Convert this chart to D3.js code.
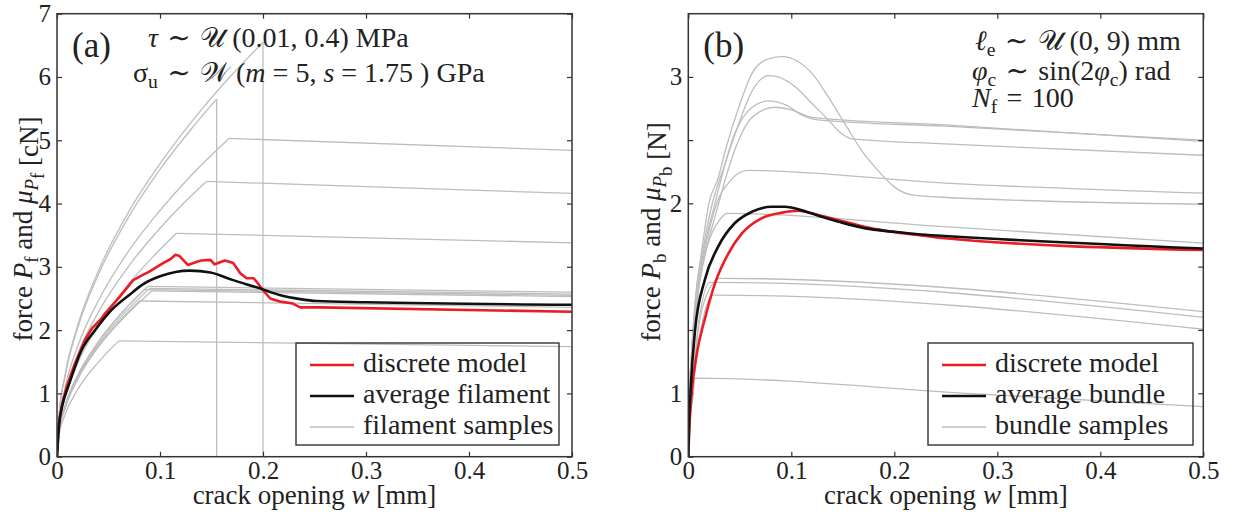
<!DOCTYPE html>
<html>
<head>
<meta charset="utf-8">
<script src="https://cdn.jsdelivr.net/npm/d3@7"></script>
<style>
  body { margin: 0; background: #fff; }
  svg { display: block; }
  svg text { font-family: "Liberation Serif", "DejaVu Serif", serif !important; fill: #222; }
</style>
</head>
<body>
<svg id="chart" width="1236" height="515"></svg>
<script>
// crack opening ticks shared by both panels
const wTicks = [0, 0.1, 0.2, 0.3, 0.4, 0.5]
const filamentForceTicks = [0, 1, 2, 3, 4, 5, 6, 7]
// bundle axis is not uniform: labelled ticks at 0, 1, 2, 3 plus blank ones in between
const bundleForceTicks = [0, 1, 4 / 3, 5 / 3, 2, 2.5, 3]
const bundleForceLabels = ['0', '1', '', '', '2', '', '3']

// (a) single filament samples [w (mm), P (cN)]
const filamentSamples = [
  [[0, 0], [0.002, 0.66], [0.008, 1.31], [0.02, 2.07], [0.04, 2.93], [0.07, 3.88], [0.1, 4.63], [0.14, 5.48], [0.17, 6.04], [0.2, 6.55], [0.2, 0]],
  [[0, 0], [0.002, 0.64], [0.008, 1.28], [0.02, 2.03], [0.04, 2.87], [0.07, 3.8], [0.1, 4.54], [0.13, 5.17], [0.155, 5.65], [0.155, 0]],
  [[0, 0], [0.002, 0.55], [0.008, 1.1], [0.02, 1.74], [0.04, 2.46], [0.07, 3.26], [0.1, 3.89], [0.13, 4.44], [0.167, 5.03], [0.5, 4.84]],
  [[0, 0], [0.002, 0.51], [0.008, 1.02], [0.02, 1.62], [0.04, 2.28], [0.07, 3.02], [0.1, 3.61], [0.125, 4.04], [0.145, 4.35], [0.5, 4.16]],
  [[0, 0], [0.002, 0.46], [0.008, 0.93], [0.02, 1.47], [0.04, 2.07], [0.07, 2.74], [0.095, 3.19], [0.116, 3.53], [0.5, 3.38]],
  [[0, 0], [0.002, 0.41], [0.008, 0.81], [0.02, 1.28], [0.04, 1.81], [0.065, 2.31], [0.088, 2.69], [0.5, 2.6]],
  [[0, 0], [0.002, 0.4], [0.008, 0.79], [0.02, 1.25], [0.04, 1.77], [0.065, 2.26], [0.09, 2.66], [0.5, 2.57]],
  [[0, 0], [0.002, 0.4], [0.008, 0.81], [0.02, 1.28], [0.04, 1.81], [0.065, 2.31], [0.085, 2.64], [0.5, 2.55]],
  [[0, 0], [0.002, 0.39], [0.008, 0.77], [0.02, 1.22], [0.04, 1.73], [0.065, 2.2], [0.092, 2.62], [0.5, 2.53]],
  [[0, 0], [0.002, 0.39], [0.008, 0.78], [0.02, 1.23], [0.04, 1.74], [0.06, 2.13], [0.08, 2.46], [0.5, 2.36]],
  [[0, 0], [0.002, 0.33], [0.008, 0.67], [0.02, 1.06], [0.04, 1.49], [0.06, 1.83], [0.5, 1.74]]
]
const filamentDiscrete = [
  [0, 0], [0.0013, 0.47], [0.0045, 0.79], [0.0094, 1.11], [0.0175, 1.47], [0.027, 1.84], [0.034, 2.03],
  [0.042, 2.16], [0.047, 2.27], [0.061, 2.53], [0.074, 2.79], [0.082, 2.86], [0.09, 2.93], [0.097, 3.0],
  [0.103, 3.06], [0.11, 3.12], [0.115, 3.19], [0.119, 3.17], [0.127, 3.03], [0.136, 3.08], [0.14, 3.1],
  [0.149, 3.11], [0.153, 3.04], [0.163, 3.1], [0.171, 3.06], [0.178, 2.9], [0.184, 2.82], [0.191, 2.82],
  [0.195, 2.74], [0.2, 2.63], [0.207, 2.5], [0.217, 2.45], [0.229, 2.42], [0.236, 2.36], [0.255, 2.36], [0.5, 2.29]
]
const filamentAverage = [
  [0, 0], [0.002, 0.5], [0.005, 0.8], [0.011, 1.11], [0.024, 1.69], [0.037, 2.0], [0.053, 2.32], [0.072, 2.58],
  [0.083, 2.72], [0.1, 2.85], [0.115, 2.92], [0.129, 2.94], [0.149, 2.91], [0.171, 2.79], [0.197, 2.66],
  [0.217, 2.55], [0.236, 2.49], [0.252, 2.46], [0.3, 2.44], [0.5, 2.4]
]

// (b) bundle samples [w (mm), P (N)]
const bundleSamples = [
  [[0, 0], [0.001, 0.9], [0.003, 1.2], [0.007, 1.5], [0.013, 1.75], [0.02, 2.0], [0.029, 2.2], [0.036, 2.42], [0.049, 2.76], [0.062, 3.03], [0.074, 3.13], [0.091, 3.16], [0.107, 3.12], [0.12, 3.03], [0.136, 2.84], [0.152, 2.63], [0.168, 2.42], [0.184, 2.26], [0.2, 2.13], [0.217, 2.066], [0.243, 2.05], [0.5, 1.995]],
  [[0, 0], [0.001, 0.9], [0.003, 1.2], [0.007, 1.5], [0.014, 1.75], [0.022, 1.97], [0.036, 2.32], [0.049, 2.63], [0.062, 2.89], [0.078, 3.01], [0.087, 3.0], [0.104, 2.92], [0.12, 2.79], [0.136, 2.66], [0.149, 2.55], [0.159, 2.51], [0.249, 2.47], [0.5, 2.38]],
  [[0, 0], [0.001, 0.88], [0.003, 1.18], [0.008, 1.5], [0.015, 1.75], [0.025, 1.98], [0.045, 2.55], [0.062, 2.76], [0.078, 2.81], [0.094, 2.78], [0.11, 2.7], [0.126, 2.66], [0.249, 2.61], [0.5, 2.5]],
  [[0, 0], [0.001, 0.86], [0.003, 1.15], [0.008, 1.47], [0.016, 1.72], [0.027, 1.95], [0.045, 2.42], [0.062, 2.68], [0.084, 2.76], [0.1, 2.74], [0.12, 2.68], [0.249, 2.62], [0.5, 2.49]],
  [[0, 0], [0.001, 0.8], [0.004, 1.2], [0.01, 1.55], [0.02, 1.85], [0.03, 2.05], [0.039, 2.16], [0.049, 2.24], [0.058, 2.26], [0.249, 2.16], [0.5, 2.08]],
  [[0, 0], [0.001, 0.8], [0.004, 1.2], [0.01, 1.55], [0.02, 1.8], [0.03, 1.91], [0.038, 1.947], [0.249, 1.877], [0.5, 1.79]],
  [[0, 0], [0.001, 0.7], [0.004, 1.05], [0.01, 1.35], [0.018, 1.52], [0.031, 1.605], [0.5, 1.43]],
  [[0, 0], [0.001, 0.7], [0.004, 1.05], [0.01, 1.37], [0.021, 1.584], [0.5, 1.4]],
  [[0, 0], [0.001, 0.68], [0.004, 1.02], [0.011, 1.3], [0.024, 1.517], [0.5, 1.337]],
  [[0, 0], [0.002, 0.6], [0.0045, 0.95], [0.0065, 1.08], [0.27, 1.0], [0.5, 0.79]]
]
const bundleDiscrete = [
  [0, 0], [0.001, 0.45], [0.0033, 1.0], [0.008, 1.2], [0.016, 1.39], [0.026, 1.58], [0.039, 1.737], [0.052, 1.842],
  [0.071, 1.921], [0.091, 1.951], [0.107, 1.961], [0.126, 1.938], [0.152, 1.903], [0.178, 1.868], [0.197, 1.851],
  [0.223, 1.833], [0.249, 1.816], [0.5, 1.754]
]
const bundleAverage = [
  [0, 0], [0.0008, 0.6], [0.002, 1.0], [0.0065, 1.33], [0.016, 1.596], [0.029, 1.772], [0.045, 1.895], [0.062, 1.956],
  [0.081, 1.982], [0.094, 1.982], [0.107, 1.968], [0.127, 1.933], [0.146, 1.903], [0.172, 1.868], [0.198, 1.851],
  [0.223, 1.837], [0.249, 1.828], [0.5, 1.762]
]

const legendLabelsA = ['discrete model', 'average filament', 'filament samples']
const legendLabelsB = ['discrete model', 'average bundle', 'bundle samples']

const RED = '#ec1c24'
const BLACK = '#111'
const GRAY = '#bdbdbd'
const FRAME = '#333'
const SP = '\u2004' // wider math-like space around relations

const svg = d3.select('#chart')

// builds a <text> from segments {t, i (italic), sub, up}
function richText(sel, segs, size) {
  segs.forEach((s) => {
    const ts = sel.append('tspan').text(s.t)
    if (s.i) ts.attr('font-style', 'italic')
    if (s.sub) ts.attr('font-size', size * 0.7).attr('dy', size * 0.22)
    if (s.up) ts.attr('dy', -size * 0.22)
  })
  return sel
}

function drawPanel(opt) {
  const { x, y, yTicks, yLabels, samples, discrete, average, legend, tag, notes, ylabel } = opt
  const [left, right] = x.range()
  const [bottom, top] = [y.range()[0], y.range()[y.range().length - 1]]

  const g = svg.append('g')
  const clipId = 'clip' + tag
  g.append('clipPath').attr('id', clipId)
    .append('rect').attr('x', left).attr('y', top).attr('width', right - left).attr('height', bottom - top)

  const plot = g.append('g').attr('clip-path', `url(#${clipId})`)

  const smooth = d3.line().x((d) => x(d[0])).y((d) => y(d[1])).curve(d3.curveMonotoneX)
  const straight = d3.line().x((d) => x(d[0])).y((d) => y(d[1]))

  // samples: smooth rise, straight tail after the peak (or a vertical break)
  samples.forEach((pts) => {
    if (opt.kinked) {
      const k = d3.maxIndex(pts, (d) => d[1])
      plot.append('path').attr('d', smooth(pts.slice(0, k + 1)))
        .attr('fill', 'none').attr('stroke', GRAY).attr('stroke-width', 1.3)
      plot.append('path').attr('d', straight(pts.slice(k)))
        .attr('fill', 'none').attr('stroke', GRAY).attr('stroke-width', 1.3)
    } else {
      plot.append('path').attr('d', smooth(pts))
        .attr('fill', 'none').attr('stroke', GRAY).attr('stroke-width', 1.3)
    }
  })

  plot.append('path').attr('d', (opt.kinked ? straight : smooth)(discrete))
    .attr('fill', 'none').attr('stroke', RED).attr('stroke-width', 2.6).attr('stroke-linejoin', 'round')
  plot.append('path').attr('d', smooth(average))
    .attr('fill', 'none').attr('stroke', BLACK).attr('stroke-width', 2.6)

  // axes, ticks pointing inward
  const tickStyle = (a) => {
    a.attr('font-family', null)
    a.select('.domain').remove()
    a.selectAll('.tick line').attr('stroke', FRAME).attr('stroke-width', 1.2)
    a.selectAll('text').attr('font-size', 25)
  }
  g.append('g').attr('transform', `translate(0,${bottom})`)
    .call(d3.axisBottom(x).tickValues(wTicks).tickSize(-5).tickPadding(5).tickFormat((d) => d3.format('.1~f')(d)))
    .call(tickStyle)
  g.append('g').attr('transform', `translate(0,${top})`)
    .call(d3.axisTop(x).tickValues(wTicks).tickSize(-5).tickFormat(''))
    .call(tickStyle)
  g.append('g').attr('transform', `translate(${left},0)`)
    .call(d3.axisLeft(y).tickValues(yTicks).tickSize(-5).tickPadding(6).tickFormat((d, i) => yLabels[i]))
    .call(tickStyle)
  g.append('g').attr('transform', `translate(${right},0)`)
    .call(d3.axisRight(y).tickValues(yTicks).tickSize(-5).tickFormat(''))
    .call(tickStyle)

  g.append('rect').attr('x', left).attr('y', top).attr('width', right - left).attr('height', bottom - top)
    .attr('fill', 'none').attr('stroke', FRAME).attr('stroke-width', 1.5)

  // axis titles
  const xt = g.append('text').attr('x', (left + right) / 2).attr('y', bottom + 47)
    .attr('text-anchor', 'middle').attr('font-size', 27)
  richText(xt, [{ t: 'crack opening ' }, { t: 'w', i: true }, { t: ' [mm]' }], 27)

  const yt = g.append('text').attr('transform', `translate(${opt.ylabelX},${opt.ylabelY}) rotate(-90)`)
    .attr('text-anchor', 'middle').attr('font-size', 27)
  richText(yt, ylabel, 27)

  // panel tag
  g.append('text').attr('x', left + 15).attr('y', top + 43).attr('font-size', 35)
    .text(`(${tag})`)

  // annotations
  notes.forEach((n) => {
    const t = g.append('text').attr('x', n.x).attr('y', n.y).attr('font-size', 28)
    richText(t, n.segs, 28)
  })

  // legend
  const lg = g.append('g')
  lg.append('rect').attr('x', legend.x).attr('y', 343).attr('width', legend.w).attr('height', 102)
    .attr('fill', 'none').attr('stroke', FRAME).attr('stroke-width', 1.4)
  const styles = [[RED, 2.6], [BLACK, 2.6], [GRAY, 1.3]]
  legend.labels.forEach((lab, i) => {
    const ly = 365 + i * 31
    lg.append('line').attr('x1', legend.x + 14).attr('x2', legend.x + 58).attr('y1', ly).attr('y2', ly)
      .attr('stroke', styles[i][0]).attr('stroke-width', styles[i][1])
    lg.append('text').attr('x', legend.x + 67).attr('y', ly + 7).attr('font-size', 28).text(lab)
  })
}

const xA = d3.scaleLinear().domain([0, 0.5]).range([57, 572])
const yA = d3.scaleLinear().domain([0, 7]).range([456.7, 13.7])
const xB = d3.scaleLinear().domain([0, 0.5]).range([688.3, 1203.3])
const yB = d3.scaleLinear().domain([0, 1, 2, 3.5]).range([456.7, 393.3, 203.3, 13.7])

drawPanel({
  tag: 'a', x: xA, y: yA, kinked: true,
  yTicks: filamentForceTicks, yLabels: filamentForceTicks.map(String),
  samples: filamentSamples, discrete: filamentDiscrete, average: filamentAverage,
  legend: { x: 296, w: 263, labels: legendLabelsA },
  ylabelX: 32, ylabelY: 229,
  ylabel: [{ t: 'force ' }, { t: 'P', i: true }, { t: 'f', sub: true }, { t: ' and ', up: true }, { t: 'μ', i: true },
    { t: 'P', i: true, sub: true }, { t: 'f', sub: true }, { t: ' [cN]', up: true }],
  notes: [
    { x: 148, y: 47, segs: [{ t: 'τ', i: true }, { t: SP + '∼' + SP }, { t: '𝒰' }, { t: ' (0.01, 0.4) MPa' }] },
    { x: 133, y: 82, segs: [{ t: 'σ' }, { t: 'u', sub: true }, { t: SP + '∼' + SP, up: true }, { t: '𝒲' }, { t: ' (' },
      { t: 'm', i: true }, { t: ' = 5, ' }, { t: 's', i: true }, { t: ' = 1.75 ) GPa' }] }
  ]
})

drawPanel({
  tag: 'b', x: xB, y: yB, kinked: false,
  yTicks: bundleForceTicks, yLabels: bundleForceLabels,
  samples: bundleSamples, discrete: bundleDiscrete, average: bundleAverage,
  legend: { x: 928, w: 265, labels: legendLabelsB },
  ylabelX: 660, ylabelY: 232,
  ylabel: [{ t: 'force ' }, { t: 'P', i: true }, { t: 'b', sub: true }, { t: ' and ', up: true }, { t: 'μ', i: true },
    { t: 'P', i: true, sub: true }, { t: 'b', sub: true }, { t: ' [N]', up: true }],
  notes: [
    { x: 975, y: 50, segs: [{ t: 'ℓ', i: true }, { t: 'e', sub: true }, { t: SP + '∼' + SP, up: true }, { t: '𝒰' }, { t: ' (0, 9) mm' }] },
    { x: 972, y: 80, segs: [{ t: 'φ', i: true }, { t: 'c', sub: true }, { t: SP + '∼' + SP + 'sin(2', up: true }, { t: 'φ', i: true },
      { t: 'c', sub: true }, { t: ') rad', up: true }] },
    { x: 972, y: 107, segs: [{ t: 'N', i: true }, { t: 'f', sub: true }, { t: SP + '=' + SP + '100', up: true }] }
  ]
})
</script>
</body>
</html>
